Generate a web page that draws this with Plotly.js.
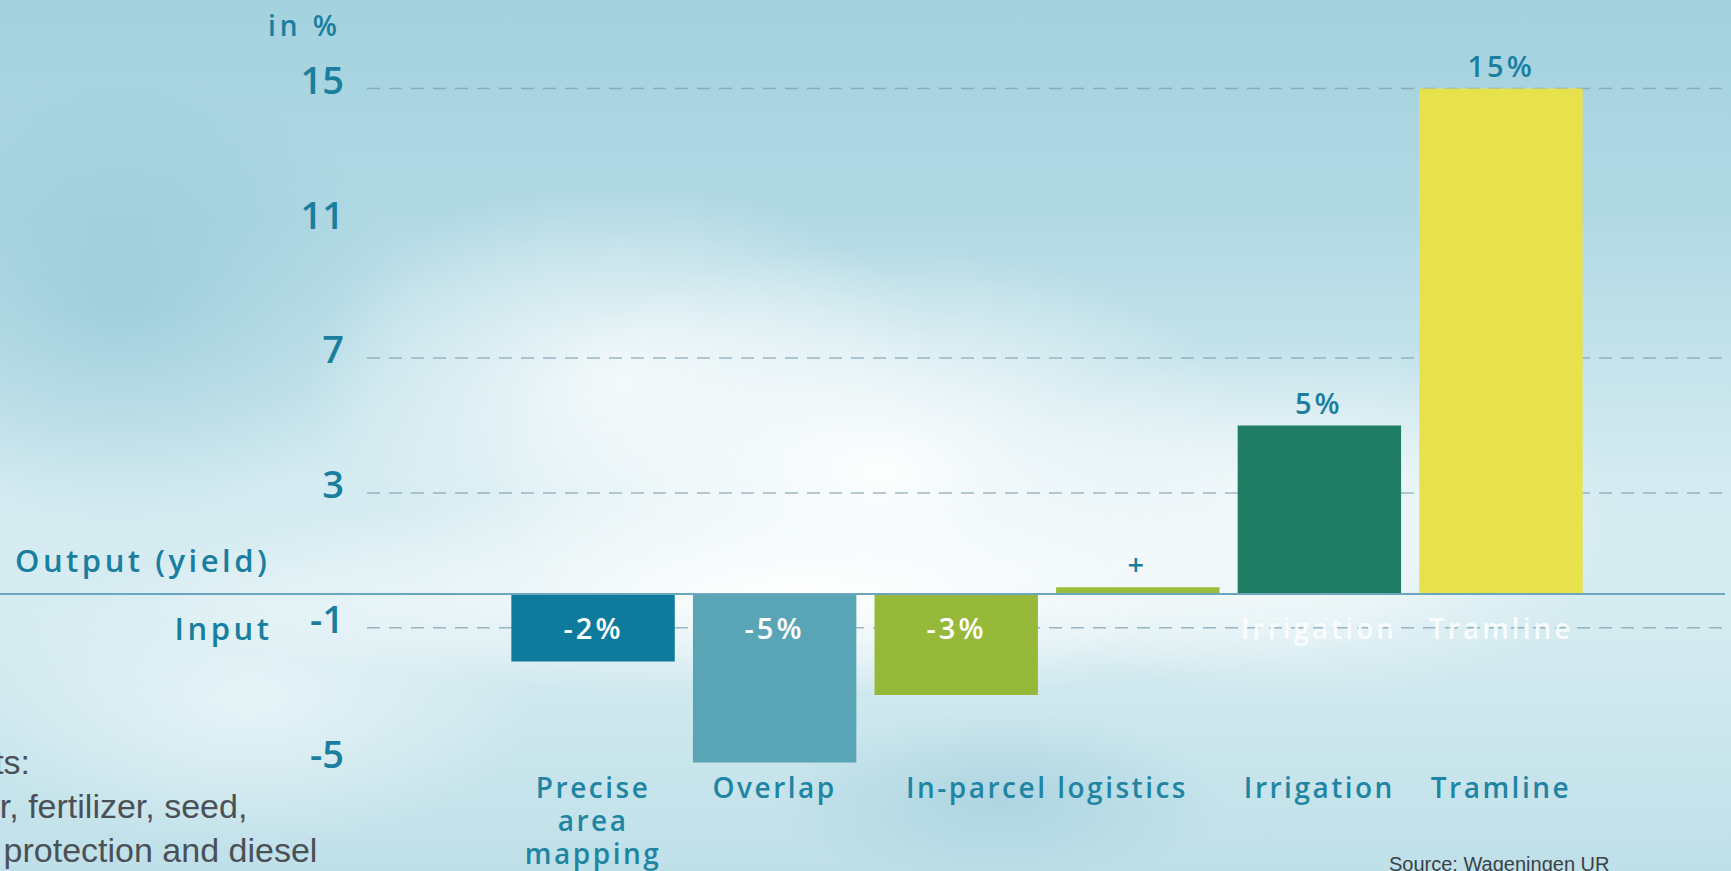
<!DOCTYPE html>
<html>
<head>
<meta charset="utf-8">
<script src="https://cdn.plot.ly/plotly-3.0.1.min.js"></script>
<style>
  html, body { margin: 0; padding: 0; width: 1731px; height: 871px; overflow: hidden; }
  body {
    background:
      radial-gradient(ellipse 520px 300px at 880px 470px, rgba(255,255,255,0.95), rgba(255,255,255,0) 75%),
      radial-gradient(ellipse 900px 140px at 800px 590px, rgba(255,255,255,0.95), rgba(255,255,255,0) 75%),
      radial-gradient(ellipse 420px 260px at 620px 380px, rgba(255,255,255,0.75), rgba(255,255,255,0) 75%),
      radial-gradient(ellipse 420px 240px at 1300px 520px, rgba(255,255,255,0.8), rgba(255,255,255,0) 75%),
      radial-gradient(ellipse 380px 200px at 250px 700px, rgba(235,246,249,0.8), rgba(235,246,249,0) 75%),
      radial-gradient(ellipse 380px 300px at 120px 300px, rgba(125,188,207,0.45), rgba(125,188,207,0) 75%),
      radial-gradient(ellipse 300px 120px at 1000px 800px, rgba(150,200,215,0.5), rgba(150,200,215,0) 75%),
      linear-gradient(180deg, #a3d2de 0%, #b1d9e4 25%, #d4ebf1 55%, #d6ecf1 70%, #bfe0e9 100%);
  }
  #chart { width: 1731px; height: 871px; }
  .xtick text { letter-spacing: 2.5px; }
  g.annotation text { letter-spacing: 3px; }
  g.annotation[data-index="0"] text { letter-spacing: 4px; }
  g.annotation[data-index="1"] text,
  g.annotation[data-index="2"] text { letter-spacing: 3.5px; }
  g.annotation[data-index="11"] text,
  g.annotation[data-index="12"] text { letter-spacing: 0; }
</style>
</head>
<body>
<div id="chart"></div>
<script>
// ---- data ----
const categories = ["Precise<br>area<br>mapping", "Overlap", "In-parcel logistics", "Irrigation", "Tramline"];
const categoryPos = [0, 1, 2.5, 4, 5];
const barPos = [0, 1, 2, 3, 4, 5];
const barValues = [-2, -5, -3, 0.2, 5, 15];
const barLabels = ["-2%", "-5%", "-3%", "+", "5%", "15%"];
const barColors = ["#0e7b9c", "#5aa5b5", "#97b93a", "#9bbd3c", "#1f7d63", "#e8e14e"];
const yTickVals = [15, 11, 7, 3, -1, -5];
const yTickText = ["15", "11", "7", "3", "-1", "-5"];
const gridVals = [15, 7, 3, -1];
const ghostLabels = ["Irrigation", "Tramline"];
const ghostPos = [4, 5];

// ---- style ----
const TEAL = "#1a7f9f";
const FONT = "Open Sans, sans-serif";

const trace = {
  type: "bar",
  x: barPos,
  y: barValues,
  width: 0.9,
  marker: { color: barColors, line: { width: 0 } },
  hoverinfo: "skip"
};

const shapes = gridVals.map(v => ({
  type: "line", xref: "paper", yref: "y", x0: 0, x1: 1, y0: v, y1: v,
  layer: "below",
  line: { color: "rgba(120,155,172,0.7)", width: 1.5, dash: "13px,9px" }
}));
shapes.push({
  type: "line", xref: "paper", yref: "y", x0: -0.27, x1: 0.9956, y0: 0, y1: 0,
  layer: "above",
  line: { color: "#6aa6bc", width: 2 }
});

const annotations = [
  { text: "in %", xref: "paper", yref: "paper", x: -0.0455, y: 0.967, xanchor: "center", yanchor: "middle",
    showarrow: false, font: { family: FONT, size: 28, weight: 600, color: TEAL } },
  { text: "Output (yield)", xref: "paper", yref: "y", x: -0.0696, y: 1, xanchor: "right", yanchor: "middle",
    showarrow: false, align: "right", font: { family: FONT, size: 31, weight: 600, color: TEAL } },
  { text: "Input", xref: "paper", yref: "y", x: -0.068, y: -1, xanchor: "right", yanchor: "middle",
    showarrow: false, align: "right", font: { family: FONT, size: 31, weight: 600, color: TEAL } }
];
barValues.forEach((v, i) => {
  const neg = v < 0;
  annotations.push({
    text: barLabels[i], x: barPos[i], y: neg ? 0 : v, xref: "x", yref: "y",
    xanchor: "center", yanchor: neg ? "top" : "bottom", yshift: neg ? -12 : 2,
    showarrow: false,
    font: { family: FONT, size: 29, weight: 600, color: neg ? "#ffffff" : TEAL }
  });
});
ghostLabels.forEach((t, i) => {
  annotations.push({
    text: t, x: ghostPos[i], y: -1, xref: "x", yref: "y", xanchor: "center", yanchor: "middle",
    showarrow: false, font: { family: FONT, size: 28, weight: 600, color: "rgba(255,255,255,0.85)" }
  });
});
annotations.push({
  text: "Inputs:<br>water, fertilizer, seed,<br>crop protection and diesel",
  xref: "paper", yref: "paper", x: -0.324, y: -0.054, xanchor: "left", yanchor: "middle", align: "left",
  showarrow: false, font: { family: "Liberation Sans, Arial, sans-serif", size: 34, color: "#4a5156" }
});
annotations.push({
  text: "Source: Wageningen UR",
  xref: "paper", yref: "paper", x: 0.748, y: -0.112, xanchor: "left", yanchor: "top",
  showarrow: false, font: { family: "Liberation Sans, Arial, sans-serif", size: 20, color: "#3b4145" }
});

const layout = {
  width: 1731, height: 871,
  margin: { l: 367, r: 0, t: 0, b: 106, pad: 0 },
  paper_bgcolor: "rgba(0,0,0,0)",
  plot_bgcolor: "rgba(0,0,0,0)",
  showlegend: false,
  bargap: 0.1,
  xaxis: {
    range: [-1.245, 6.267],
    tickvals: categoryPos, ticktext: categories,
    showgrid: false, zeroline: false, showline: false, ticks: "",
    ticklabelstandoff: 4,
    tickfont: { family: FONT, size: 28, weight: 600, color: "#1f85a3" },
    fixedrange: true
  },
  yaxis: {
    range: [-5.074, 17.626],
    tickvals: yTickVals, ticktext: yTickText,
    showgrid: false, zeroline: false, showline: false, ticks: "",
    ticklabelstandoff: 22,
    ticklabelshift: -8,
    tickfont: { family: FONT, size: 38, weight: 600, color: TEAL },
    fixedrange: true
  },
  shapes: shapes,
  annotations: annotations,
  font: { family: FONT, color: TEAL }
};

Plotly.newPlot("chart", [trace], layout, { displayModeBar: false, staticPlot: true }).then(() => {
  // tighter line spacing for multi-line category labels
  document.querySelectorAll(".xtick text tspan.line").forEach(t => {
    const dy = parseFloat(t.getAttribute("dy"));
    if (dy) t.setAttribute("dy", (dy / 1.3 * 1.18) + "em");
  });
});
</script>
</body>
</html>
